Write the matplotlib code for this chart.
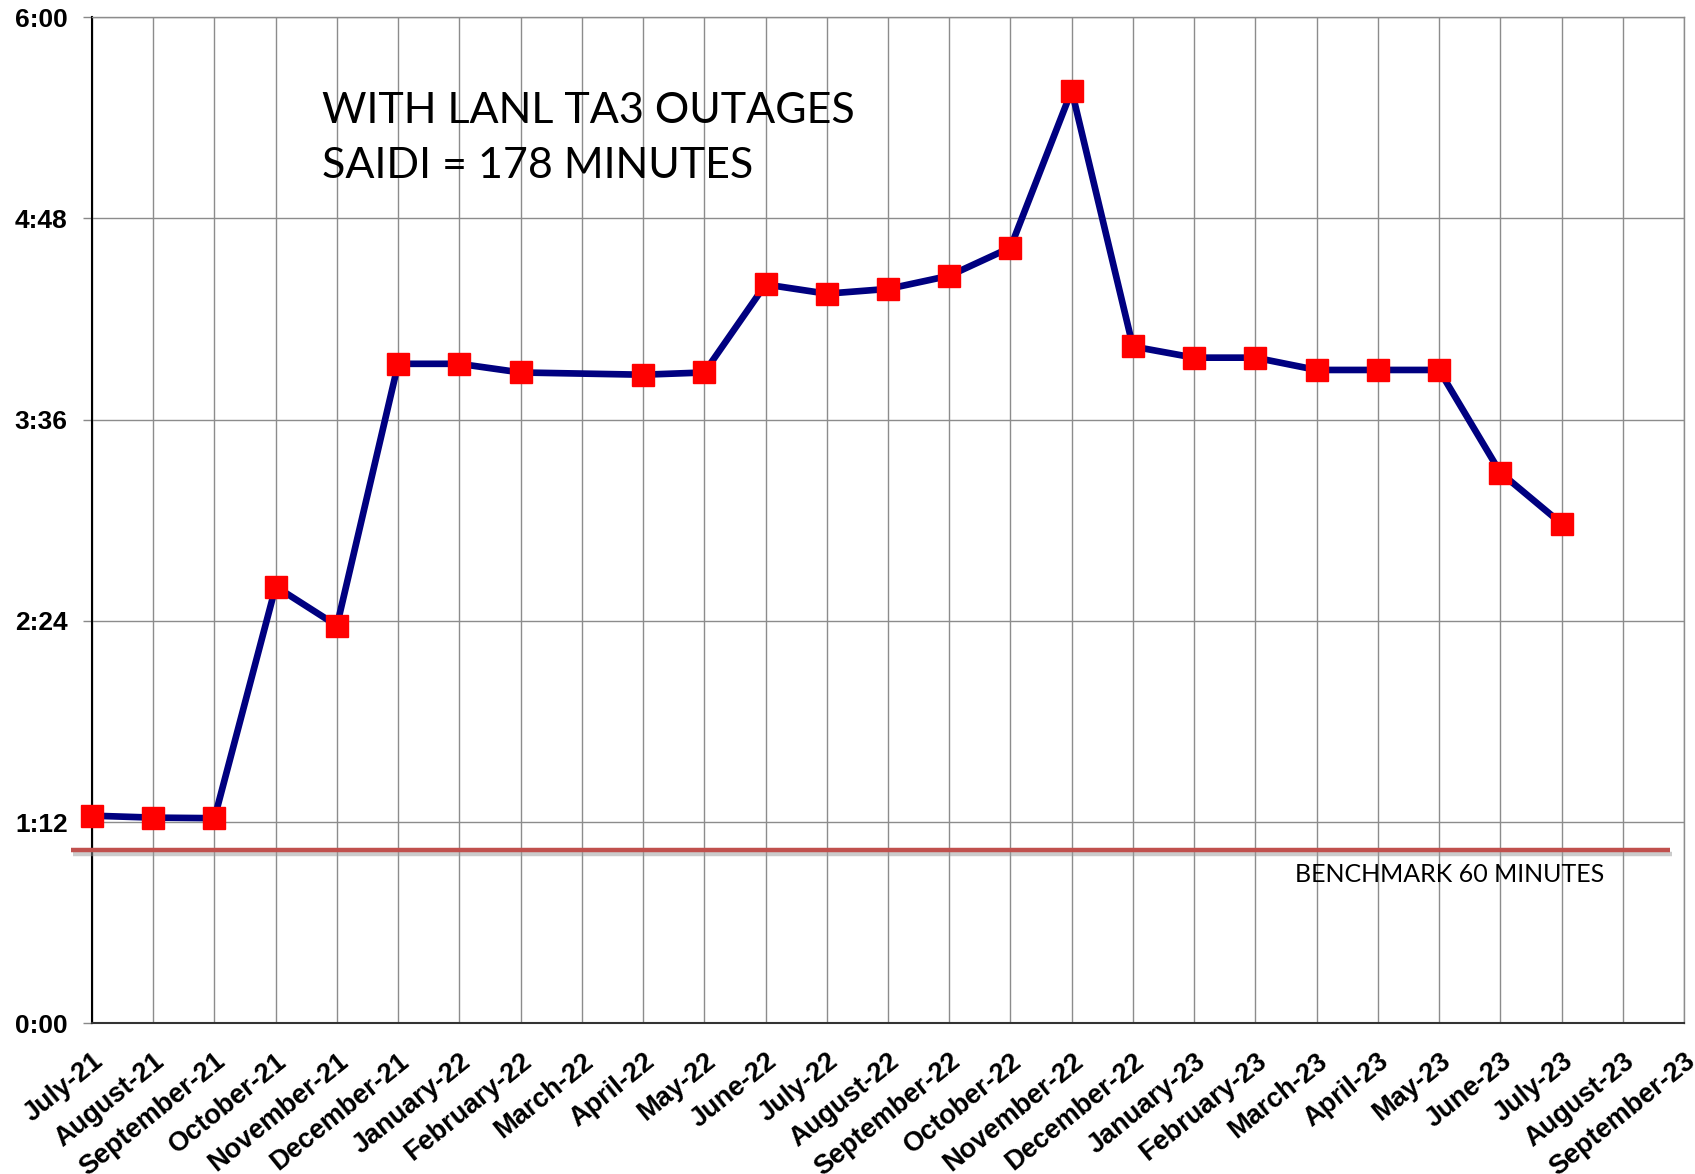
import matplotlib
matplotlib.use("Agg")
import matplotlib.pyplot as plt
import matplotlib.patheffects as pe
from matplotlib.transforms import blended_transform_factory
import numpy as np

# ---- data ----
months = ["July-21", "August-21", "September-21", "October-21", "November-21",
          "December-21", "January-22", "February-22", "March-22", "April-22",
          "May-22", "June-22", "July-22", "August-22", "September-22",
          "October-22", "November-22", "December-22", "January-23",
          "February-23", "March-23", "April-23", "May-23", "June-23",
          "July-23", "August-23", "September-23"]
saidi_minutes = [74.3, 73.6, 73.4, 156.3, 142.3,
                 236.0, 236.0, 232.9, np.nan, 232.1,
                 232.9, 264.4, 261.1, 262.8, 267.5,
                 277.6, 333.8, 242.2, 238.2,
                 238.2, 233.8, 233.8, 233.8, 197.1,
                 178.8, np.nan, np.nan]
benchmark_minutes = 62
ytick_minutes = [0, 72, 144, 216, 288, 360]
ytick_labels = ["0:00", "1:12", "2:24", "3:36", "4:48", "6:00"]
title_lines = ["WITH LANL TA3 OUTAGES", "SAIDI = 178 MINUTES"]
benchmark_label = "BENCHMARK 60 MINUTES"

# ---- figure ----
W, H = 1695, 1174
fig = plt.figure(figsize=(W / 100, H / 100), dpi=100)
ax_l, ax_r, ax_t, ax_b = 92, 1684, 17.3, 1023.3
ax = fig.add_axes([ax_l / W, 1 - ax_b / H, (ax_r - ax_l) / W, (ax_b - ax_t) / H])

x = np.arange(len(months))
y = np.array(saidi_minutes, dtype=float)
m = np.isfinite(y)
ax.plot(x[m], y[m], color="#000080", lw=4.8, marker="s", ms=15.6,
        mfc="#FF0000", mec="#FF0000", zorder=5, clip_on=False)

ax.set_xlim(0, len(months) - 1)
ax.set_ylim(0, 360)
ax.set_xticks(x)
ax.set_xticklabels(months, rotation=39, ha="right", va="top",
                   rotation_mode="anchor", fontsize=19.5, fontweight="bold",
                   family="Liberation Sans")
ax.set_yticks(ytick_minutes)
ax.set_yticklabels(ytick_labels, fontsize=19, fontweight="bold",
                   family="Liberation Sans")
ax.tick_params(axis="x", length=0, pad=18)
ax.tick_params(axis="y", length=6.5, width=1.0, color="#888888", pad=11)
ax.grid(True, color="#8c8c8c", lw=1.0)
ax.set_axisbelow(True)
for s in ("top", "right"):
    ax.spines[s].set_color("#8c8c8c")
    ax.spines[s].set_linewidth(1.0)
ax.spines["left"].set_color("black")
ax.spines["left"].set_linewidth(1.5)
ax.spines["bottom"].set_color("#333333")
ax.spines["bottom"].set_linewidth(1.5)

# benchmark line (drawn shape, extends left of axis)
tr = blended_transform_factory(ax.transAxes, ax.transData)
x0 = (70.7 - ax_l) / (ax_r - ax_l)
x1 = (1670 - ax_l) / (ax_r - ax_l)
ax.plot([x0, x1], [benchmark_minutes, benchmark_minutes], transform=tr,
        color="#C0504D", lw=3.2, clip_on=False, zorder=4,
        solid_capstyle="butt",
        path_effects=[pe.SimpleLineShadow(offset=(1.5, -2.5), shadow_color="#999999", alpha=0.5),
                      pe.Normal()])

fig.text(1295 / W, 1 - 881.7 / H, benchmark_label, fontsize=18, family="Lato",
         ha="left", va="baseline", color="black")
fig.text(322 / W, 1 - 123 / H, title_lines[0], fontsize=31, family="Lato",
         ha="left", va="baseline", color="black")
fig.text(322 / W, 1 - 178 / H, title_lines[1], fontsize=31, family="Lato",
         ha="left", va="baseline", color="black")

fig.savefig("out.png", dpi=100)
